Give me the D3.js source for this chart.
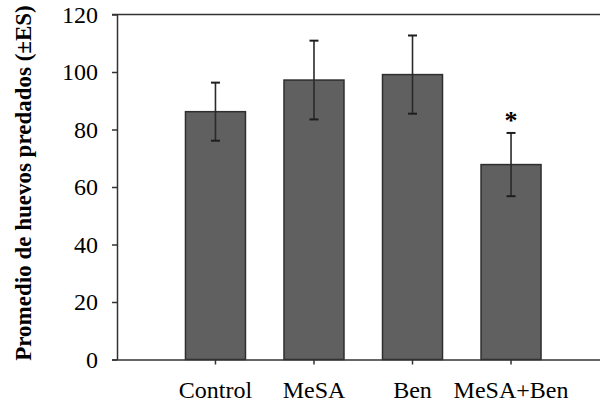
<!DOCTYPE html>
<html>
<head>
<meta charset="utf-8">
<script src="https://cdn.jsdelivr.net/npm/d3@7"></script>
<style>
  body { margin: 0; background: #fff; }
  svg { display: block; }
  text { font-family: "Liberation Serif", "Times New Roman", serif; fill: #000; }
</style>
</head>
<body>
<svg id="chart" width="600" height="408"></svg>
<script>
// ---------------------------------------------
// Data
// ---------------------------------------------
let categories = ['Control', 'MeSA', 'Ben', 'MeSA+Ben'];
let means = [86.2, 97.2, 99.1, 67.8];
let errors = [10.1, 13.7, 13.6, 11.0];
let significant = [false, false, false, true];
let yTicks = [0, 20, 40, 60, 80, 100, 120];
let yTitle = 'Promedio de huevos predados (±ES)';

let svg = d3.select('#chart');

// scales
let x = d3.scaleBand()
    .domain(categories)
    .range([117, 609.5])
    .paddingInner(0.391)
    .paddingOuter(0.695);

let y = d3.scaleLinear()
    .domain([0, 120])
    .range([359.5, 14.5]);

let axisColor = '#333';

// top frame line at the axis max
svg.append('line')
    .attr('x1', 112).attr('x2', 610)
    .attr('y1', y(120)).attr('y2', y(120))
    .attr('stroke', axisColor).attr('stroke-width', 1.5);

// bars
svg.selectAll('rect.bar').data(categories)
    .join('rect')
    .attr('class', 'bar')
    .attr('x', (d) => x(d))
    .attr('width', x.bandwidth())
    .attr('y', (d, i) => y(means[i]))
    .attr('height', (d, i) => y(0) - y(means[i]))
    .attr('fill', '#606060')
    .attr('stroke', '#2e2e2e')
    .attr('stroke-width', 1.5);

// error bars
let errG = svg.append('g');
categories.forEach((c, i) => {
  let cx = x(c) + x.bandwidth() / 2;
  let top = y(means[i] + errors[i]);
  let bot = y(means[i] - errors[i]);
  errG.append('line')
      .attr('x1', cx).attr('x2', cx)
      .attr('y1', top).attr('y2', bot)
      .attr('stroke', '#2a2a2a').attr('stroke-width', 1.6);
  [top, bot].forEach((yy) => {
    errG.append('line')
        .attr('x1', cx - 4.5).attr('x2', cx + 4.5)
        .attr('y1', yy).attr('y2', yy)
        .attr('stroke', '#1e1e1e').attr('stroke-width', 2);
  });
  if (significant[i]) {
    svg.append('text')
        .attr('x', cx)
        .attr('y', top - 4)
        .attr('text-anchor', 'middle')
        .attr('font-size', 26)
        .attr('font-weight', 'bold')
        .text('*');
  }
});

// y axis
let yAxis = svg.append('g')
    .attr('transform', 'translate(117,0)')
    .call(d3.axisLeft(y).tickValues(yTicks).tickSize(5).tickSizeOuter(0).tickPadding(14));
yAxis.select('.domain').attr('stroke', axisColor).attr('stroke-width', 1.5);
yAxis.selectAll('.tick line').attr('stroke', axisColor).attr('stroke-width', 1.5);
yAxis.selectAll('.tick text')
    .attr('font-family', '"Liberation Serif", "Times New Roman", serif')
    .attr('font-size', 24)
    .attr('fill', '#000');

// x axis
let xAxis = svg.append('g')
    .attr('transform', 'translate(0,' + y(0) + ')')
    .call(d3.axisBottom(x).tickSize(5).tickSizeOuter(0).tickPadding(16));
xAxis.select('.domain').attr('d', 'M112,0.5H610').attr('stroke', axisColor).attr('stroke-width', 1.5);
xAxis.selectAll('.tick line').attr('stroke', axisColor).attr('stroke-width', 1.5);
xAxis.selectAll('.tick text')
    .attr('font-family', '"Liberation Serif", "Times New Roman", serif')
    .attr('font-size', 24)
    .attr('fill', '#000');

// y title
svg.append('text')
    .attr('transform', 'translate(31,183) rotate(-90)')
    .attr('text-anchor', 'middle')
    .attr('font-size', 23)
    .attr('font-weight', 'bold')
    .text(yTitle);
</script>
</body>
</html>
